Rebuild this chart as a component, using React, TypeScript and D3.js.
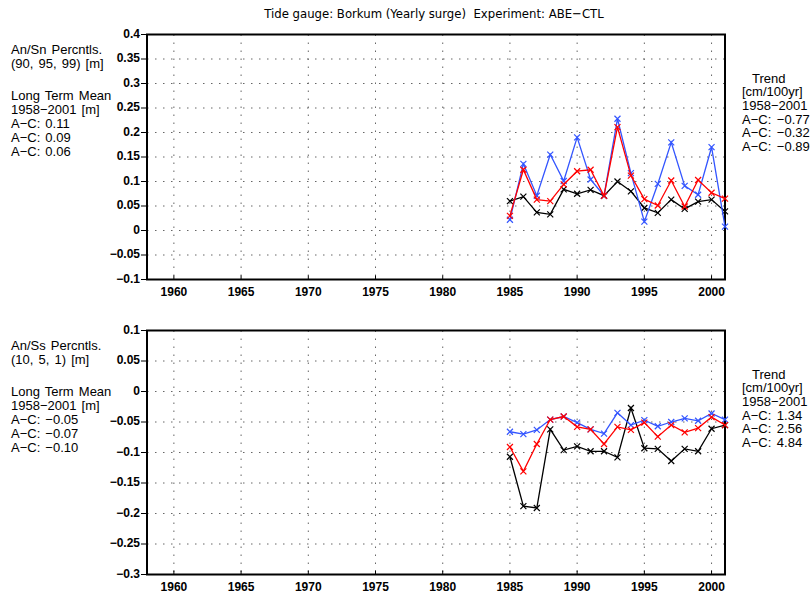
import React from "react";
import * as d3 from "d3";

// yearly surge percentiles, Borkum, ABE-CTL
const years = [1985, 1986, 1987, 1988, 1989, 1990, 1991, 1992, 1993, 1994, 1995, 1996, 1997, 1998, 1999, 2000, 2001];

const p90Top = [0.06, 0.069, 0.037, 0.033, 0.084, 0.075, 0.083, 0.071, 0.1, 0.08, 0.046, 0.036, 0.063, 0.044, 0.059, 0.063, 0.039];
const p95Top = [0.03, 0.124, 0.063, 0.06, 0.094, 0.121, 0.124, 0.071, 0.211, 0.112, 0.064, 0.051, 0.102, 0.049, 0.103, 0.077, 0.065];
const p99Top = [0.022, 0.136, 0.071, 0.155, 0.101, 0.19, 0.104, 0.071, 0.228, 0.117, 0.018, 0.095, 0.18, 0.091, 0.073, 0.17, 0.008];

const p10Bot = [-0.066, -0.07, -0.063, -0.046, -0.041, -0.051, -0.062, -0.069, -0.035, -0.055, -0.047, -0.057, -0.05, -0.044, -0.048, -0.036, -0.046];
const p5Bot = [-0.091, -0.131, -0.086, -0.046, -0.041, -0.058, -0.062, -0.086, -0.058, -0.063, -0.051, -0.074, -0.055, -0.067, -0.06, -0.042, -0.055];
const p1Bot = [-0.107, -0.188, -0.191, -0.062, -0.096, -0.09, -0.098, -0.098, -0.108, -0.027, -0.093, -0.094, -0.114, -0.094, -0.098, -0.061, -0.055];

const xTicks = [1960, 1965, 1970, 1975, 1980, 1985, 1990, 1995, 2000];
const yTicksTop = [0.4, 0.35, 0.3, 0.25, 0.2, 0.15, 0.1, 0.05, 0, -0.05, -0.1];
const yTicksBot = [0.1, 0.05, 0, -0.05, -0.1, -0.15, -0.2, -0.25, -0.3];

const leftTextTop = ["An/Sn Percntls.", "(90, 95, 99) [m]", "Long Term Mean", "1958\u22122001 [m]", "A\u2212C: 0.11", "A\u2212C: 0.09", "A\u2212C: 0.06"];
const leftTextBot = ["An/Ss Percntls.", "(10, 5, 1) [m]", "Long Term Mean", "1958\u22122001 [m]", "A\u2212C: \u22120.05", "A\u2212C: \u22120.07", "A\u2212C: \u22120.10"];
const rightTextTop = ["Trend", "[cm/100yr]", "1958\u22122001", "A\u2212C: \u22120.77", "A\u2212C: \u22120.32", "A\u2212C: \u22120.89"];
const rightTextBot = ["Trend", "[cm/100yr]", "1958\u22122001", "A\u2212C: 1.34", "A\u2212C: 2.56", "A\u2212C: 4.84"];

const title = "Tide gauge: Borkum (Yearly surge)  Experiment: ABE\u2212CTL";

const tickFont = "'Liberation Sans', Arial, sans-serif";
const textFont = "'Liberation Sans', Arial, sans-serif";
const titleFont = "'DejaVu Sans Condensed', 'Liberation Sans', sans-serif";

export default function App() {
    const ref = React.useRef<SVGSVGElement>(null);

    React.useEffect(() => {
        document.body.style.margin = "0";
        const svg = d3.select(ref.current);
        svg.selectAll("*").remove();

        svg.append("rect").attr("width", 812).attr("height", 593).attr("fill", "white");

        svg.append("text")
            .attr("x", 434)
            .attr("y", 14)
            .attr("text-anchor", "middle")
            .attr("dominant-baseline", "middle")
            .attr("font-family", titleFont)
            .attr("font-size", 13)
            .style("white-space", "pre")
            .text(title);

        const x = d3.scaleLinear().domain([1958, 2001]).range([147, 725]);

        drawPanel(svg, x, d3.scaleLinear().domain([-0.1, 0.4]).range([279.5, 34.5]), yTicksTop,
            [p90Top, p99Top, p95Top], leftTextTop, rightTextTop);
        drawPanel(svg, x, d3.scaleLinear().domain([-0.3, 0.1]).range([574.5, 330.5]), yTicksBot,
            [p1Bot, p10Bot, p5Bot], leftTextBot, rightTextBot);
    }, []);

    function drawPanel(svg, x, y, yTicks, series, leftText, rightText) {
        const [x0, x1] = x.range();
        const [yb, yt] = y.range();
        const g = svg.append("g");

        // dotted grid
        g.selectAll(".hgrid")
            .data(yTicks.slice(1, -1))
            .enter()
            .append("line")
            .attr("x1", x0)
            .attr("x2", x1)
            .attr("y1", (d) => y(d))
            .attr("y2", (d) => y(d))
            .attr("stroke", "#666")
            .attr("stroke-width", 1)
            .attr("stroke-dasharray", "1.5,6.5");
        g.selectAll(".vgrid")
            .data(xTicks)
            .enter()
            .append("line")
            .attr("x1", (d) => x(d))
            .attr("x2", (d) => x(d))
            .attr("y1", yt)
            .attr("y2", yb)
            .attr("stroke", "#666")
            .attr("stroke-width", 1)
            .attr("stroke-dasharray", "1.5,6.5");

        // frame
        g.append("rect")
            .attr("x", x0)
            .attr("y", yt)
            .attr("width", x1 - x0)
            .attr("height", yb - yt)
            .attr("fill", "none")
            .attr("stroke", "black")
            .attr("stroke-width", 2);

        // y ticks + labels
        const yt_ = g.selectAll(".ytick").data(yTicks).enter().append("g");
        yt_.append("line")
            .attr("x1", x0 - 6)
            .attr("x2", x0)
            .attr("y1", (d) => y(d))
            .attr("y2", (d) => y(d))
            .attr("stroke", "black")
            .attr("stroke-width", 1);
        yt_.append("text")
            .attr("x", x0 - 7)
            .attr("y", (d) => y(d))
            .attr("text-anchor", "end")
            .attr("dominant-baseline", "middle")
            .attr("font-family", tickFont)
            .attr("font-weight", "bold")
            .attr("font-size", 12)
            .text((d) => String(d).replace("-", "\u2212"));

        // x ticks + labels
        const xt = g.selectAll(".xtick").data(xTicks).enter().append("g");
        xt.append("line")
            .attr("x1", (d) => x(d))
            .attr("x2", (d) => x(d))
            .attr("y1", yb)
            .attr("y2", yb - 4)
            .attr("stroke", "black");
        xt.append("text")
            .attr("x", (d) => x(d))
            .attr("y", yb + 13)
            .attr("text-anchor", "middle")
            .attr("dominant-baseline", "middle")
            .attr("font-family", tickFont)
            .attr("font-weight", "bold")
            .attr("font-size", 12)
            .text((d) => d);

        // series
        const colors = ["#000000", "#3355ff", "#ff0000"];
        series.forEach((vals, i) => {
            const pts = years.map((yr, j) => [yr, vals[j]]);
            const line = d3
                .line()
                .x((d) => x(d[0]))
                .y((d) => y(d[1]));
            g.append("path")
                .datum(pts)
                .attr("fill", "none")
                .attr("stroke", colors[i])
                .attr("stroke-width", 1.3)
                .attr("d", line);
            g.selectAll(".mk" + i)
                .data(pts)
                .enter()
                .append("path")
                .attr("fill", "none")
                .attr("stroke", colors[i])
                .attr("stroke-width", 1.2)
                .attr("d", (d) => {
                    const cx = x(d[0]);
                    const cy = y(d[1]);
                    const s = 3;
                    return `M${cx - s},${cy - s}L${cx + s},${cy + s}M${cx - s},${cy + s}L${cx + s},${cy - s}`;
                });
        });

        // side texts
        const leftOff = [16, 30, 62, 76, 90, 104, 118];
        g.selectAll(".lt")
            .data(leftText)
            .enter()
            .append("text")
            .attr("x", 11)
            .attr("y", (d, i) => yt + leftOff[i])
            .attr("dominant-baseline", "middle")
            .attr("font-family", textFont)
            .attr("font-size", 13)
            .attr("word-spacing", 1.5)
            .text((d) => d);

        const rightOff = [45, 58.5, 72, 86, 99.5, 113];
        g.selectAll(".rt")
            .data(rightText)
            .enter()
            .append("text")
            .attr("x", (d, i) => (i === 0 ? 752 : 742))
            .attr("y", (d, i) => yt + rightOff[i])
            .attr("dominant-baseline", "middle")
            .attr("font-family", textFont)
            .attr("font-size", 13)
            .attr("word-spacing", 2)
            .text((d) => d);
    }

    return <svg ref={ref} width={812} height={593} style={{ display: "block" }} />;
}
